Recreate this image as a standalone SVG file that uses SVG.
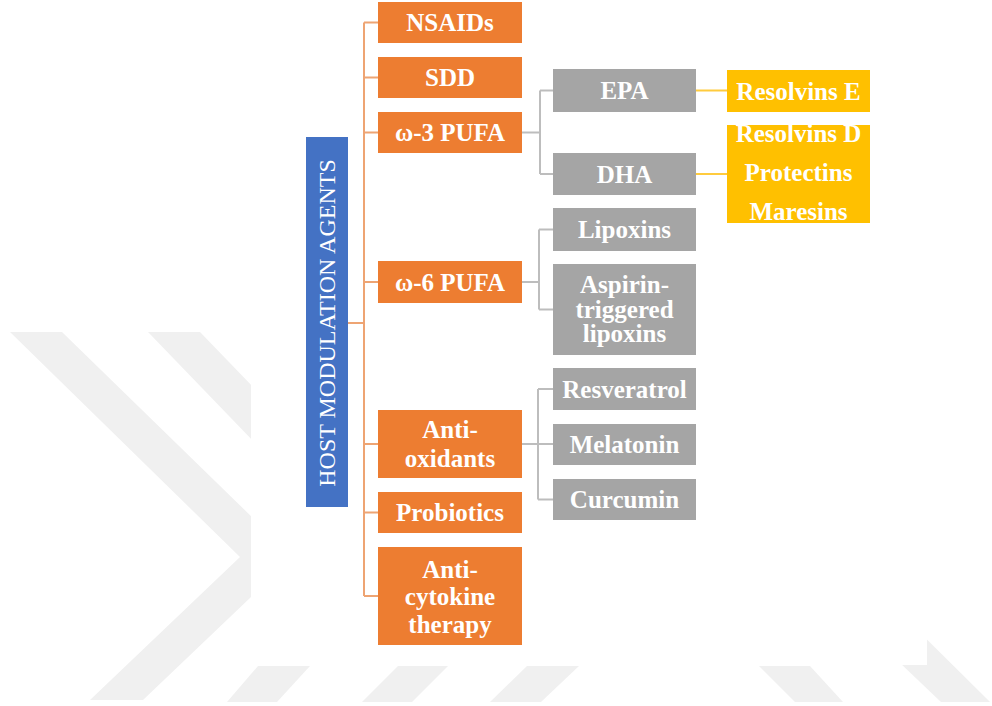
<svg xmlns="http://www.w3.org/2000/svg" width="992" height="706" viewBox="0 0 992 706">
<style>
text{font-family:"Liberation Serif","Times New Roman",serif;font-size:25px;fill:#ffffff;text-anchor:middle;font-weight:bold}
.wm{fill:#f0f0f0}
.or{fill:#ED7D31}
.gr{fill:#A5A5A5}
.ye{fill:#FFC000}
.bl{fill:#4472C4}
.lo{stroke:#EEA473;stroke-width:2;fill:none}
.lg{stroke:#BDBDBD;stroke-width:2;fill:none}
.ly{stroke:#FFCB3D;stroke-width:2;fill:none}
</style>
<rect x="0" y="0" width="992" height="706" fill="#ffffff"/>
<g id="watermark">
<polygon class="wm" points="10,332 62,332 293,557 143,700 90,700 240,557"/>
<polygon class="wm" points="148,332 200,332 420,560 368,560"/>
<polygon class="wm" points="258,666 310,666 277,702 227,702"/>
<polygon class="wm" points="398,666 448,666 412,702 362,702"/>
<polygon class="wm" points="527,666 579,666 541,702 490,702"/>
<polygon class="wm" points="759,666 810,666 843,702 795,702"/>
<polygon class="wm" points="834,600 887,600 990,702 941,702"/>
<rect x="251" y="0" width="676" height="665" fill="#ffffff"/>
</g>
<g id="connectors">
<path class="lo" d="M364,22.5 V596 M348,323 H364 M364,22.5 H378 M364,77.5 H378 M364,132.5 H378 M364,282 H378 M364,444 H378 M364,512.5 H378 M364,596 H378"/>
<path class="lg" d="M522,132.5 H540 M540,90.5 V174 M540,90.5 H553 M540,174 H553"/>
<path class="lg" d="M522,282 H539 M539,229.5 V309.5 M539,229.5 H553 M539,309.5 H553"/>
<path class="lg" d="M522,444 H553 M538,389 V499.5 M538,389 H553 M538,499.5 H553"/>
<path class="ly" d="M696,90.5 H727 M696,174 H727"/>
</g>
<g id="host">
<rect class="bl" x="306" y="137" width="42" height="370"/>
<text transform="translate(335,323) rotate(-90)" style="font-weight:normal;font-size:24px">HOST MODULATION AGENTS</text>
</g>
<g id="nsaids"><rect class="or" x="378" y="2" width="144" height="41"/><text x="450" y="31">NSAIDs</text></g>
<g id="sdd"><rect class="or" x="378" y="57" width="144" height="41"/><text x="450" y="86">SDD</text></g>
<g id="omega3"><rect class="or" x="378" y="112" width="144" height="41"/><text x="450" y="141">ω-3 PUFA</text></g>
<g id="omega6"><rect class="or" x="378" y="261" width="144" height="42"/><text x="450" y="290.5">ω-6 PUFA</text></g>
<g id="antioxidants"><rect class="or" x="378" y="410" width="144" height="68"/><text x="450" y="437.5">Anti-</text><text x="450" y="467">oxidants</text></g>
<g id="probiotics"><rect class="or" x="378" y="492" width="144" height="41"/><text x="450" y="521">Probiotics</text></g>
<g id="anticytokine"><rect class="or" x="378" y="547" width="144" height="98"/><text x="450" y="577.5">Anti-</text><text x="450" y="605">cytokine</text><text x="450" y="632.5">therapy</text></g>
<g id="epa"><rect class="gr" x="553" y="69" width="143" height="43"/><text x="624.5" y="99">EPA</text></g>
<g id="dha"><rect class="gr" x="553" y="153" width="143" height="42"/><text x="624.5" y="182.5">DHA</text></g>
<g id="resolvinsE"><rect class="ye" x="727" y="70" width="143" height="42"/><text x="798.5" y="99.5">Resolvins E</text></g>
<g id="resolvinsD"><rect class="ye" x="727" y="125" width="143" height="98"/><text x="798.5" y="141.5">Resolvins D</text><text x="798.5" y="181">Protectins</text><text x="798.5" y="220">Maresins</text></g>
<g id="lipoxins"><rect class="gr" x="553" y="208" width="143" height="43"/><text x="624.5" y="238">Lipoxins</text></g>
<g id="aspirin"><rect class="gr" x="553" y="264" width="143" height="91"/><text x="624.5" y="292.5">Aspirin-</text><text x="624.5" y="317.5">triggered</text><text x="624.5" y="342">lipoxins</text></g>
<g id="resveratrol"><rect class="gr" x="553" y="368" width="143" height="42"/><text x="624.5" y="397.5">Resveratrol</text></g>
<g id="melatonin"><rect class="gr" x="553" y="424" width="143" height="41"/><text x="624.5" y="453">Melatonin</text></g>
<g id="curcumin"><rect class="gr" x="553" y="479" width="143" height="41"/><text x="624.5" y="508">Curcumin</text></g>
</svg>
